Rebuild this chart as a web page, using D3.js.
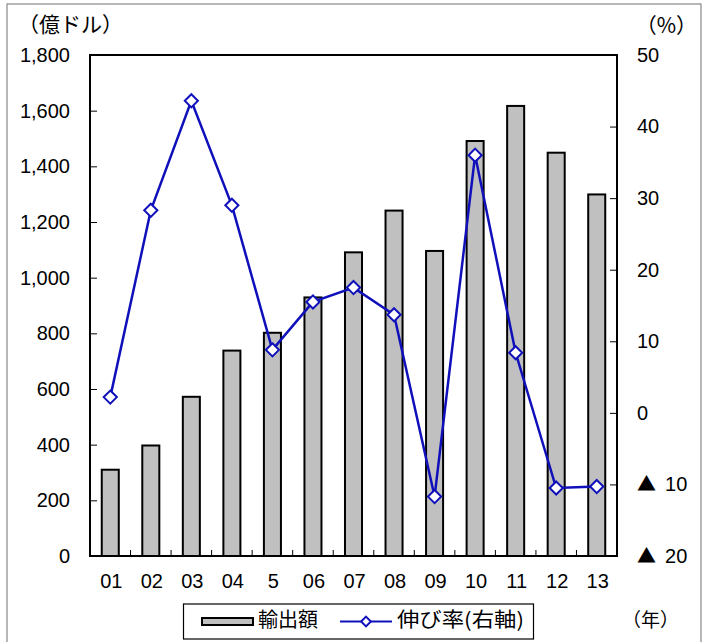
<!DOCTYPE html>
<html><head><meta charset="utf-8">
<script src="https://cdn.jsdelivr.net/npm/d3@7"></script>
<style>body{margin:0;background:#fff}svg{display:block}</style>
</head><body>
<svg id="c" width="704" height="642"></svg>
<script>
const categories = ["01","02","03","04","5","06","07","08","09","10","11","12","13"];
const exportsValues = [310, 397, 572, 738, 802, 929, 1091, 1241, 1096, 1491, 1617, 1449, 1299];
const growthValues = [2.2, 28.3, 43.6, 29.0, 8.8, 15.5, 17.5, 13.7, -11.7, 36.0, 8.4, -10.5, -10.3];
const leftTicks = [0,200,400,600,800,1000,1200,1400,1600,1800];
const rightTicks = [50,40,30,20,10,0,-10,-20];
const rightTickLabels = ["50","40","30","20","10","0","▲ 10","▲ 20"];
const seriesNames = ["輸出額","伸び率(右軸)"];

const svg = d3.select("#c");
const L=90, R=617, T=55, B=556;
const numFont = "'Liberation Sans', Arial, sans-serif";
const jpFont = "'Noto Sans CJK JP', sans-serif";
const blue = "#1010bb";

svg.append("rect").attr("x",7).attr("y",4).attr("width",694).attr("height",645)
  .attr("fill","none").attr("stroke","#888").attr("stroke-width",1.2);

const x = d3.scaleBand().domain(categories).range([L,R]).paddingInner(0).paddingOuter(0);
const y = d3.scaleLinear().domain([0,1800]).range([B,T]);
const y2 = d3.scaleLinear().domain([-20,50]).range([B,T]);
const bw = x.bandwidth()*0.42;

// bars
svg.append("g").selectAll("rect").data(categories).join("rect")
  .attr("x",d=>x(d)+x.bandwidth()/2-bw/2)
  .attr("y",(d,i)=>y(exportsValues[i]))
  .attr("width",bw)
  .attr("height",(d,i)=>B-y(exportsValues[i]))
  .attr("fill","#c0c0c0").attr("stroke","#000").attr("stroke-width",2);

// frame
svg.append("rect").attr("x",L).attr("y",T).attr("width",R-L).attr("height",B-T)
  .attr("fill","none").attr("stroke","#000").attr("stroke-width",2);

// left axis
const la = svg.append("g").attr("transform",`translate(${L},0)`)
  .call(d3.axisLeft(y).tickValues(leftTicks).tickSize(-7).tickPadding(20).tickFormat(d3.format(",")));
la.select(".domain").remove();
la.selectAll("line").attr("stroke","#000");
la.selectAll("text").attr("font-family",numFont).attr("font-size",20).attr("fill","#000");

// right axis
const ra = svg.append("g").attr("transform",`translate(${R},0)`)
  .call(d3.axisRight(y2).tickValues(rightTicks).tickSize(-7).tickPadding(20).tickFormat(""));
ra.select(".domain").remove();
ra.selectAll("line").attr("stroke","#000");
ra.selectAll("text").each(function(d,i){
  const t = d3.select(this).attr("font-family",numFont).attr("font-size",20).attr("fill","#000");
  const lab = rightTickLabels[rightTicks.indexOf(d)];
  if (lab.startsWith("▲")) {
    t.append("tspan").attr("font-family",jpFont).attr("font-size",19).text("▲");
    t.append("tspan").attr("dx",9).text(lab.slice(2));
  } else {
    t.text(lab);
  }
});

// bottom axis ticks between categories
const boundaries = categories.slice(1).map(c=>x(c));
svg.append("g").selectAll("line").data(boundaries).join("line")
  .attr("x1",d=>d).attr("x2",d=>d).attr("y1",B).attr("y2",B-6)
  .attr("stroke","#000").attr("stroke-width",1);
svg.append("g").selectAll("text").data(categories).join("text")
  .attr("x",d=>x(d)+x.bandwidth()/2+1).attr("y",B+27)
  .attr("text-anchor","middle").attr("dominant-baseline","middle")
  .attr("font-family",numFont).attr("font-size",20).text(d=>d);

// line
const line = d3.line().x((d,i)=>x(categories[i])+x.bandwidth()/2).y(d=>y2(d));
svg.append("path").datum(growthValues).attr("d",line)
  .attr("fill","none").attr("stroke",blue).attr("stroke-width",2.5);
const diamond = d3.symbol().type(d3.symbolDiamond2).size(110);
svg.append("g").selectAll("path").data(growthValues).join("path")
  .attr("d",diamond)
  .attr("transform",(d,i)=>`translate(${x(categories[i])+x.bandwidth()/2},${y2(d)})`)
  .attr("fill","#fff").attr("stroke",blue).attr("stroke-width",2);

// unit labels
svg.append("text").attr("x",18).attr("y",26).attr("dominant-baseline","middle")
  .attr("font-family",jpFont).attr("font-size",21).text("（億ドル）");
svg.append("text").attr("x",697).attr("y",27).attr("dominant-baseline","middle").attr("text-anchor","end")
  .attr("font-family",jpFont).attr("font-size",21).text("（%）");
svg.append("text").attr("x",622).attr("y",622).attr("dominant-baseline","middle")
  .attr("font-family",jpFont).attr("font-size",19).text("（年）");

// legend
const lg = svg.append("g");
lg.append("rect").attr("x",183.5).attr("y",604).attr("width",350).attr("height",35)
  .attr("fill","#fff").attr("stroke","#000").attr("stroke-width",1.2);
lg.append("rect").attr("x",202).attr("y",618).attr("width",51).attr("height",7)
  .attr("fill","#c0c0c0").attr("stroke","#000").attr("stroke-width",2);
lg.append("text").attr("x",258).attr("y",622).attr("dominant-baseline","middle")
  .attr("font-family",jpFont).attr("font-size",20).text(seriesNames[0]);
lg.append("line").attr("x1",340).attr("x2",392).attr("y1",621.5).attr("y2",621.5)
  .attr("stroke",blue).attr("stroke-width",2);
lg.append("path").attr("d",d3.symbol().type(d3.symbolDiamond2).size(60))
  .attr("transform","translate(366,621.5)").attr("fill","#fff").attr("stroke",blue).attr("stroke-width",2);
lg.append("text").attr("x",397).attr("y",622).attr("dominant-baseline","middle")
  .attr("font-family",jpFont).attr("font-size",20).attr("textLength",127).attr("lengthAdjust","spacingAndGlyphs")
  .text(seriesNames[1]);
</script>
</body></html>
